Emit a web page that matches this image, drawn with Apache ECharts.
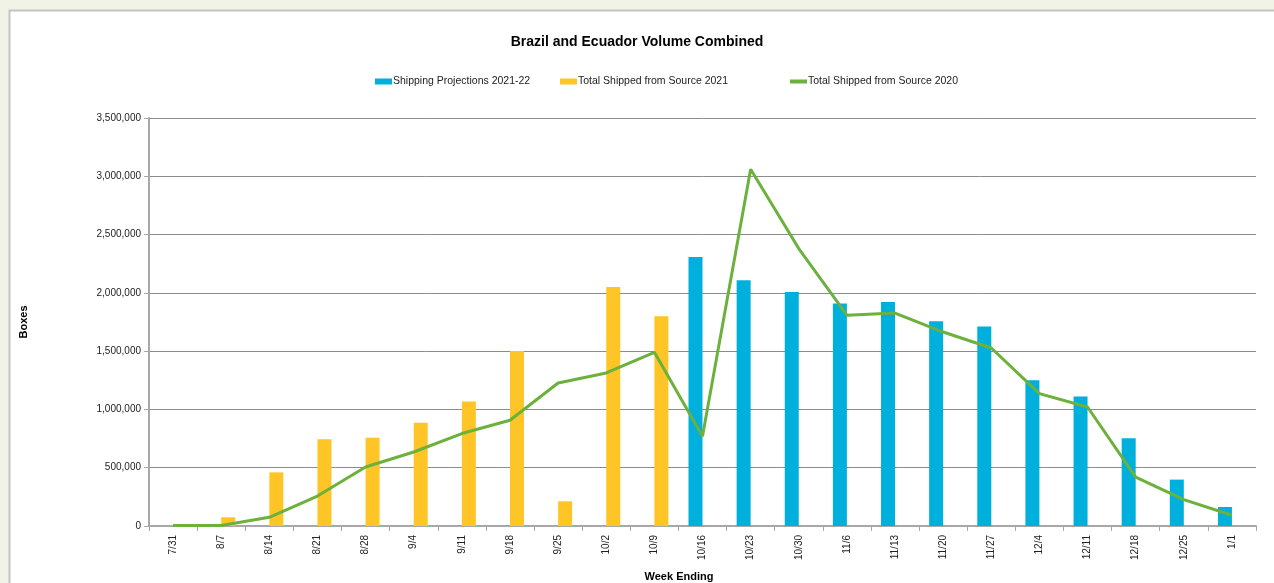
<!DOCTYPE html>
<html>
<head>
<meta charset="utf-8">
<title>Brazil and Ecuador Volume Combined</title>
<script src="https://cdn.jsdelivr.net/npm/echarts@6/dist/echarts.min.js"></script>
<style>
    html, body {
        margin: 0;
        padding: 0;
        background: #f2f3e7;
    }
    #chart {
        width: 1274px;
        height: 583px;
    }
</style>
</head>
<body>
<div id="chart"></div>
<script>
const weeks = ['7/31', '8/7', '8/14', '8/21', '8/28', '9/4', '9/11', '9/18', '9/25', '10/2', '10/9', '10/16',
    '10/23', '10/30', '11/6', '11/13', '11/20', '11/27', '12/4', '12/11', '12/18', '12/25', '1/1'];

// 2021-22 projections (blue), only from 10/16 on
const projections = [null, null, null, null, null, null, null, null, null, null, null, 2308000,
    2108000, 2007000, 1908000, 1922000, 1756000, 1711000, 1250000, 1110000, 752000, 398000, 163000];

// shipped 2021 (yellow)
const shipped2021 = [null, 75000, 460000, 745000, 757000, 886000, 1069000, 1502000, 212000, 2050000, 1800000, null,
    null, null, null, null, null, null, null, null, null, null, null];

// shipped 2020 (green line)
const shipped2020 = [5000, 5000, 75000, 257000, 506000, 635000, 793000, 907000, 1227000, 1313000, 1490000, 770000,
    3060000, 2380000, 1808000, 1827000, 1664000, 1527000, 1136000, 1021000, 420000, 226000, 92000];

const yTicks = [0, 500000, 1000000, 1500000, 2000000, 2500000, 3000000, 3500000];

const font = 'Arial, "Liberation Sans", sans-serif';
const chart = echarts.init(document.getElementById('chart'));

const legendBase = {
    top: 76,
    padding: 0,
    itemWidth: 17,
    itemHeight: 6,
    itemGap: 0,
    textStyle: {
        fontFamily: font,
        fontSize: 10.5,
        color: '#222',
        padding: [0, 0, 0, -4]
    }
};

chart.setOption({
    animation: false,
    backgroundColor: 'transparent',
    graphic: [
        {
            type: 'rect',
            z: -10,
            shape: { x: 9.5, y: 10.5, width: 1300, height: 600 },
            style: { fill: '#fff', stroke: '#c4c4c4', lineWidth: 2 }
        },
        {
            type: 'text',
            left: 'center',
            top: 35,
            style: {
                text: 'Brazil and Ecuador Volume Combined',
                font: 'bold 14px ' + font,
                fill: '#000'
            }
        },
        {
            type: 'text',
            x: 679,
            y: 571,
            style: {
                text: 'Week Ending',
                font: 'bold 11px ' + font,
                fill: '#000',
                align: 'center'
            }
        }
    ],
    legend: [
        Object.assign({}, legendBase, { left: 375, data: [{ name: 'Shipping Projections 2021-22', icon: 'rect' }] }),
        Object.assign({}, legendBase, { left: 560, data: [{ name: 'Total Shipped from Source 2021', icon: 'rect' }] }),
        Object.assign({}, legendBase, { left: 790, itemHeight: 4, data: [{ name: 'Total Shipped from Source 2020', icon: 'rect' }] })
    ],
    grid: {
        left: 149,
        right: 18,
        top: 118,
        bottom: 57
    },
    xAxis: {
        type: 'category',
        data: weeks,
        axisLine: { lineStyle: { color: '#a8a8a8', width: 2 } },
        axisTick: { show: true, length: 5, lineStyle: { color: '#a8a8a8' } },
        axisLabel: {
            rotate: 90,
            margin: 9,
            fontFamily: font,
            fontSize: 10,
            color: '#222'
        }
    },
    yAxis: {
        type: 'value',
        min: 0,
        max: 3500000,
        interval: 500000,
        name: 'Boxes',
        nameLocation: 'middle',
        nameRotate: 90,
        nameGap: 120,
        nameTextStyle: {
            fontFamily: font,
            fontSize: 11,
            fontWeight: 'bold',
            color: '#000'
        },
        axisLine: { show: true, lineStyle: { color: '#a8a8a8', width: 2 } },
        axisTick: { show: true, length: 5, lineStyle: { color: '#a8a8a8' } },
        axisLabel: {
            margin: 8,
            fontFamily: font,
            fontSize: 10,
            color: '#222',
            formatter: v => yTicks.includes(v) ? v.toLocaleString('en-US') : ''
        },
        splitLine: { lineStyle: { color: '#8c8c8c', width: 1 } }
    },
    series: [
        {
            name: 'Shipping Projections 2021-22',
            type: 'bar',
            data: projections,
            barWidth: 14,
            barGap: '0%',
            itemStyle: { color: '#00b0dc' }
        },
        {
            name: 'Total Shipped from Source 2021',
            type: 'bar',
            data: shipped2021,
            barWidth: 14,
            barGap: '0%',
            itemStyle: { color: '#ffc425' }
        },
        {
            name: 'Total Shipped from Source 2020',
            type: 'line',
            data: shipped2020,
            symbol: 'none',
            lineStyle: { color: '#6cb13c', width: 3 },
            itemStyle: { color: '#6cb13c' },
            z: 5
        }
    ]
});
</script>
</body>
</html>
